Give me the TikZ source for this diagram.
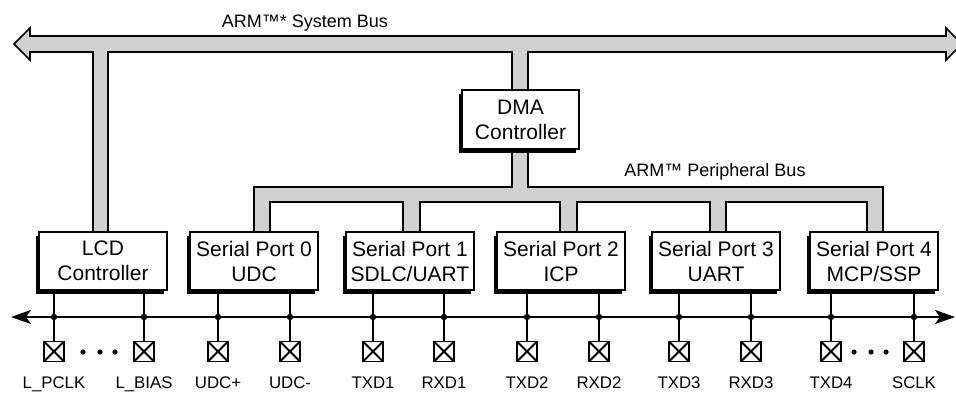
\documentclass[tikz,border=0pt]{standalone}
\usepackage{fontspec}
\setmainfont{Liberation Sans}
\usetikzlibrary{arrows.meta,shadows}

\tikzset{
  unit/.style={draw,line width=1.4pt,fill=white,minimum width=128pt,minimum height=58pt,
    align=center,inner sep=0pt,font=\fontsize{21}{25}\selectfont,
    drop shadow={shadow xshift=-3.5pt,shadow yshift=-3.5pt,opacity=1,fill=black}},
  bus/.style={fill=black!18,draw,line width=1.6pt,line join=miter},
  pad/.style={draw,line width=1.8pt,minimum size=20pt,inner sep=0pt,
    path picture={\draw[line width=1.8pt]
      (path picture bounding box.north west) -- (path picture bounding box.south east)
      (path picture bounding box.south west) -- (path picture bounding box.north east);}},
  padlabel/.style={font=\fontsize{16.8}{18}\selectfont,anchor=base},
  buslabel/.style={font=\fontsize{18}{20}\selectfont}
}

\begin{document}
\begin{tikzpicture}[x=1pt,y=-1pt]
\useasboundingbox (0,0) rectangle (956,392);

% system bus
\draw[bus] (14,44) -- (30,28) -- (30,36) -- (946,36) -- (946,28) -- (962,44) -- (946,60)
  -- (946,52) -- (528,52) -- (528,92) -- (512,92) -- (512,52) -- (108,52) -- (108,234)
  -- (93,234) -- (93,52) -- (30,52) -- (30,60) -- cycle;
\node[buslabel] (sysbus) at (305,23) {ARM™* System Bus};

% peripheral bus
\draw[bus] (512,147) -- (512,187) -- (254,187) -- (254,234) -- (270,234) -- (270,202)
  -- (403,202) -- (403,234) -- (420,234) -- (420,202) -- (560,202) -- (560,234)
  -- (577,234) -- (577,202) -- (710,202) -- (710,234) -- (726,234) -- (726,202)
  -- (867,202) -- (867,234) -- (883,234) -- (883,187) -- (528,187) -- (528,147) -- cycle;
\node[buslabel] (perbus) at (715,172) {ARM™ Peripheral Bus};

\node[unit,minimum width=117pt,minimum height=59pt] (dma) at (520.5,119.5) {DMA\\Controller};
\node[unit] (lcd) at (103,261) {LCD\\Controller};
\node[unit] (sp0) at (254,261) {Serial Port 0\\UDC};
\node[unit] (sp1) at (410,261) {Serial Port 1\\SDLC/UART};
\node[unit] (sp2) at (561,261) {Serial Port 2\\ICP};
\node[unit] (sp3) at (716,261) {Serial Port 3\\UART};
\node[unit] (sp4) at (874,261) {Serial Port 4\\MCP/SSP};

% pin line
\coordinate (sigL) at (11,317);
\coordinate (sigR) at (955,317);
\draw[line width=1.8pt,{Stealth[length=20pt,width=14pt,inset=5pt]}-{Stealth[length=20pt,width=14pt,inset=5pt]}] (sigL) -- (sigR);

\foreach \x/\name/\blk [count=\i] in {54/L\_PCLK/lcd,144/L\_BIAS/lcd,218/UDC+/sp0,290/UDC-/sp0,
    373/TXD1/sp1,444/RXD1/sp1,527/TXD2/sp2,599/RXD2/sp2,679/TXD3/sp3,751/RXD3/sp3,
    831/TXD4/sp4,914/SCLK/sp4} {
  \node[pad] (p\i) at (\x,351.5) {};
  \node[padlabel] (t\i) at (\x,388) {\name};
  \draw[line width=1.8pt] (p\i.north) -- (p\i.north |- \blk.south);
  \fill (p\i.north |- sigL) circle (3.2pt);
}
\fill \foreach \x in {83,100,115,854,871,886} {(\x,352) circle (2.6pt)};
\end{tikzpicture}
\end{document}
